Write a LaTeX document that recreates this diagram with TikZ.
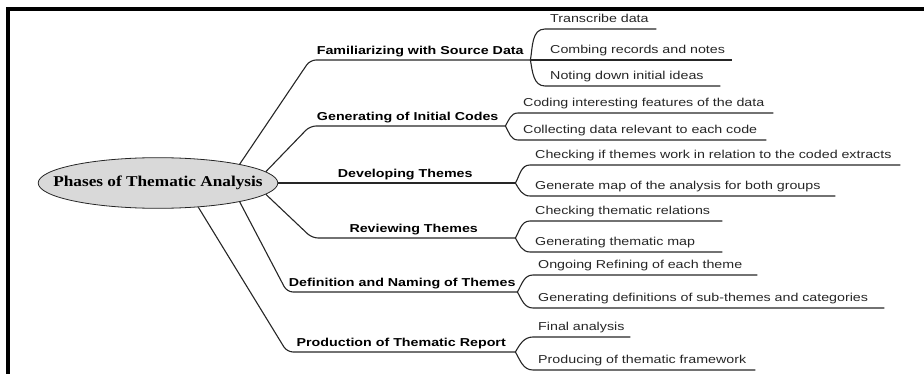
\documentclass[tikz,border=0pt]{standalone}
\usepackage{fontspec}
\newfontfamily\mapfont[FakeStretch=1.24]{Liberation Sans}
\newfontfamily\rootfont[FakeStretch=1.15]{Liberation Serif}
\usetikzlibrary{shapes.geometric}
\tikzset{
    root/.style =   {ellipse,
                    fill=black!15,
                    draw=black!85,
                    text=black,
                    thick,
                    inner xsep=-20pt,
                    inner ysep=11pt,
                    font=\rootfont\fontsize{15pt}{18pt}\selectfont\bfseries},
    phase/.style =  {rectangle,
                    anchor=south west,
                    text=black,
                    inner sep=0pt,
                    text depth=5pt,
                    minimum width=#1,
                    font=\mapfont\fontsize{11.5pt}{14pt}\selectfont\bfseries},
    leaf/.style =   {rectangle,
                    anchor=south west,
                    text=black!85,
                    inner xsep=5pt,
                    inner ysep=0pt,
                    text depth=6pt,
                    text width=#1,
                    align=left,
                    font=\mapfont\fontsize{11.5pt}{14pt}\selectfont},
    link/.style =   {draw=black!85,
                    line width=1.1pt,
                    rounded corners=6pt},
    twig/.style =   {draw=black!85,
                    line width=1.1pt},
    -,
    x=1pt,
    y=-1pt}

\begin{document}
\begin{tikzpicture}
    \useasboundingbox (0,0) rectangle (924,374);
    \draw[line width=4pt] (8,374) -- (8,9) -- (924,9);

    \node[root]             (root)  at (158,183)    {Phases of Thematic Analysis};

    % phases
    \node[phase=220pt]      (fam)   at (310,60)     {Familiarizing with Source Data};
    \node[phase=195pt]      (gen)   at (310,126)    {Generating of Initial Codes};
    \node[phase=220pt]      (dev)   at (295,183)    {Developing Themes};
    \node[phase=203pt]      (rev)   at (312,238)    {Reviewing Themes};
    \node[phase=230pt]      (def)   at (287,292)    {Definition and Naming of Themes};
    \node[phase=228pt]      (prod)  at (287,352)    {Production of Thematic Report};

    % sub-steps
    \node[leaf=101pt]       (trans) at (545,29)     {Transcribe data};
    \node[leaf=177pt]       (comb)  at (545,60)     {Combing records and notes};
    \node[leaf=165pt]       (note)  at (545,86)     {Noting down initial ideas};
    \node[leaf=245pt]       (code)  at (518,113)    {Coding interesting features of the data};
    \node[leaf=238pt]       (coll)  at (518,140)    {Collecting data relevant to each code};
    \node[leaf=360pt]       (chk)   at (530,165)    {Checking if themes work in relation to the coded extracts};
    \node[leaf=295pt]       (map)   at (530,196)    {Generate map of the analysis for both groups};
    \node[leaf=182pt]       (rel)   at (530,221)    {Checking thematic relations};
    \node[leaf=182pt]       (tmap)  at (530,252)    {Generating thematic map};
    \node[leaf=214pt]       (refine) at (533,275)   {Ongoing Refining of each theme};
    \node[leaf=341pt]       (defs)  at (533,308)    {Generating definitions of sub-themes and categories};
    \node[leaf=87pt]        (final) at (533,337)    {Final analysis};
    \node[leaf=212pt]       (frame) at (533,370)    {Producing of thematic framework};

    \draw[link] (root.13)   -- (fam.south west)  -- (fam.south east);
    \draw[link] (root.6)    -- (gen.south west)  -- (gen.south east);
    \draw[link] (root.east) -- (dev.south west)  -- (dev.south east);
    \draw[link] (root.-6)   -- (rev.south west)  -- (rev.south east);
    \draw[link] (root.-13)  -- (def.south west)  -- (def.south east);
    \draw[link] (root.-31)  -- (prod.south west) -- (prod.south east);

    \draw[twig] (fam.south east) to[out=80,in=180] (trans.south west) -- (trans.south east);
    \draw[twig] (fam.south east) -- (comb.south west) -- (comb.south east);
    \draw[twig] (fam.south east) to[out=-80,in=180] (note.south west) -- (note.south east);
    \draw[twig] (gen.south east) to[out=60,in=180] (code.south west) -- (code.south east);
    \draw[twig] (gen.south east) to[out=-60,in=180] (coll.south west) -- (coll.south east);
    \draw[twig] (dev.south east) to[out=60,in=180] (chk.south west) -- (chk.south east);
    \draw[twig] (dev.south east) to[out=-60,in=180] (map.south west) -- (map.south east);
    \draw[twig] (rev.south east) to[out=60,in=180] (rel.south west) -- (rel.south east);
    \draw[twig] (rev.south east) to[out=-60,in=180] (tmap.south west) -- (tmap.south east);
    \draw[twig] (def.south east) to[out=60,in=180] (refine.south west) -- (refine.south east);
    \draw[twig] (def.south east) to[out=-60,in=180] (defs.south west) -- (defs.south east);
    \draw[twig] (prod.south east) to[out=60,in=180] (final.south west) -- (final.south east);
    \draw[twig] (prod.south east) to[out=-60,in=180] (frame.south west) -- (frame.south east);
\end{tikzpicture}
\end{document}
